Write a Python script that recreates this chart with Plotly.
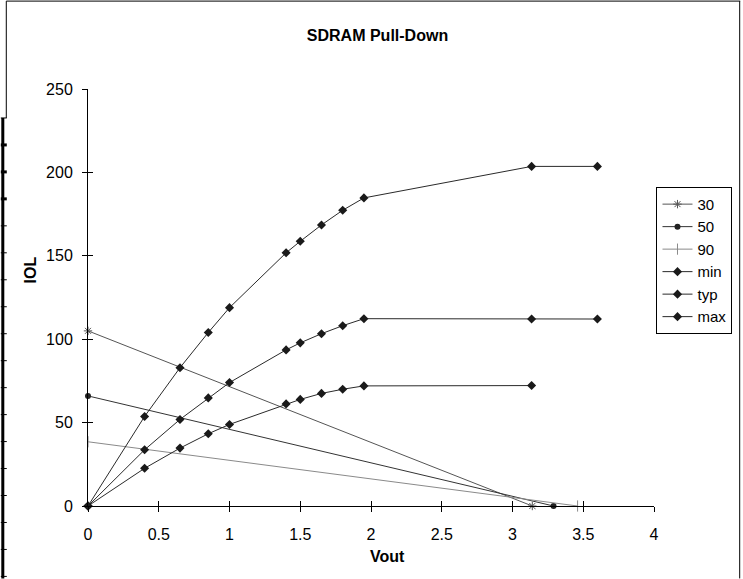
import plotly.graph_objects as go

# ---- data ----
x_drv = [0, 0.4, 0.65, 0.85, 1.0, 1.4, 1.5, 1.65, 1.8, 1.95, 3.135, 3.6]
y_min = [0, 22.6, 34.7, 43.3, 48.9, 61.2, 63.9, 67.5, 70.0, 72.0, 72.2]
y_typ = [0, 33.7, 51.9, 64.8, 74.0, 93.6, 97.8, 103.3, 108.1, 112.3, 112.1, 112.1]
y_max = [0, 53.7, 82.9, 104.0, 118.9, 151.8, 158.7, 168.5, 177.3, 184.7, 203.6, 203.6]

x_30 = [0, 3.14]
y_30 = [105, 0]
x_50 = [0, 3.29]
y_50 = [66, 0]
x_90 = [0, 3.46]
y_90 = [38.5, 0]

x_ticks = [0, 0.5, 1, 1.5, 2, 2.5, 3, 3.5, 4]
x_ticklabels = ["0", "0.5", "1", "1.5", "2", "2.5", "3", "3.5", "4"]
y_ticks = [0, 50, 100, 150, 200, 250]

# ---- geometry ----
W, H = 743, 579
L, R, T, B = 87.5, 87.5, 89, 72.5
PW = W - L - R
PH = H - T - B
FONT = "Liberation Sans, Arial, sans-serif"


def px(xp):
    return (xp - L) / PW


def py(yp):
    return (H - B - yp) / PH


fig = go.Figure()

fig.add_trace(go.Scatter(x=x_30, y=y_30, name="30", mode="lines+markers",
                         line=dict(color="#555555", width=1),
                         marker=dict(symbol="asterisk-open", size=7,
                                     line=dict(color="#555555", width=1)),
                         cliponaxis=False))
fig.add_trace(go.Scatter(x=x_50, y=y_50, name="50", mode="lines+markers",
                         line=dict(color="#333333", width=1),
                         marker=dict(symbol="circle", size=6, color="#222222"),
                         cliponaxis=False))
fig.add_trace(go.Scatter(x=x_90, y=y_90, name="90", mode="lines+markers",
                         line=dict(color="#8a8a8a", width=1),
                         marker=dict(symbol="line-ns-open", size=8,
                                     line=dict(color="#8a8a8a", width=1)),
                         cliponaxis=False))
for nm, ys in (("min", y_min), ("typ", y_typ), ("max", y_max)):
    fig.add_trace(go.Scatter(x=x_drv[:len(ys)], y=ys, name=nm, mode="lines+markers",
                             line=dict(color="#2a2a2a", width=1),
                             marker=dict(symbol="diamond", size=7, color="#1a1a1a"),
                             cliponaxis=False))

axis_common = dict(showgrid=False, zeroline=False, showline=True, linecolor="black",
                   linewidth=1, ticks="outside", ticklen=5, tickcolor="black",
                   tickwidth=1, tickfont=dict(family=FONT, size=16, color="black"))

shapes = [
    # chart frame
    dict(type="line", xref="paper", yref="paper", x0=px(5.5), x1=px(742), y0=py(1), y1=py(1),
         line=dict(color="black", width=1)),
    dict(type="line", xref="paper", yref="paper", x0=px(741.5), x1=px(741.5), y0=py(1), y1=py(579),
         line=dict(color="black", width=1)),
    dict(type="line", xref="paper", yref="paper", x0=px(5.5), x1=px(5.5), y0=py(1), y1=py(118),
         line=dict(color="black", width=1)),
    dict(type="line", xref="paper", yref="paper", x0=px(0), x1=px(6), y0=py(118), y1=py(118),
         line=dict(color="black", width=1)),
    dict(type="line", xref="paper", yref="paper", x0=px(2), x1=px(2), y0=py(118), y1=py(579),
         line=dict(color="black", width=3)),
]
for i, yy in enumerate(range(145, 579, 27)):
    shapes.append(dict(type="line", xref="paper", yref="paper", x0=px(0), x1=px(6),
                       y0=py(yy), y1=py(yy),
                       line=dict(color="black", width=3 if i < 3 else 1)))

fig.update_layout(
    width=W, height=H,
    margin=dict(l=L, r=R, t=T, b=B, pad=0),
    paper_bgcolor="white", plot_bgcolor="white",
    font=dict(family=FONT, size=16, color="black"),
    title=dict(text="<b>SDRAM Pull-Down</b>", x=377.5 / W, xanchor="center",
               y=1 - 35 / H, yanchor="middle",
               font=dict(family=FONT, size=16, color="black")),
    xaxis=dict(range=[0, 4], tickvals=x_ticks, ticktext=x_ticklabels,
               ticklabelstandoff=9, **axis_common),
    yaxis=dict(range=[0, 250], tickvals=y_ticks, ticklabelstandoff=6, **axis_common),
    xaxis2=dict(overlaying="x", anchor="y", side="bottom", range=[0, 4],
                tickvals=x_ticks, showticklabels=False, ticks="inside", ticklen=5,
                tickcolor="black", showline=False, showgrid=False, zeroline=False),
    yaxis2=dict(overlaying="y", anchor="x", side="left", range=[0, 250],
                tickvals=y_ticks, showticklabels=False, ticks="inside", ticklen=5,
                tickcolor="black", showline=False, showgrid=False, zeroline=False),
    legend=dict(x=px(657), y=py(187), xanchor="left", yanchor="top",
                bgcolor="white", bordercolor="black", borderwidth=1,
                font=dict(family=FONT, size=15, color="black"),
                itemwidth=30, tracegroupgap=0),
    annotations=[
        dict(text="<b>Vout</b>", xref="paper", yref="paper", x=px(388), y=py(557),
             xanchor="center", yanchor="middle", showarrow=False,
             font=dict(family=FONT, size=16, color="black")),
        dict(text="<b>IOL</b>", xref="paper", yref="paper", x=px(30), y=py(270),
             xanchor="center", yanchor="middle", showarrow=False, textangle=-90,
             font=dict(family=FONT, size=16, color="black")),
    ],
    shapes=shapes,
    showlegend=True,
)

# invisible helper trace so the overlay axes get drawn
fig.add_trace(go.Scatter(x=[None], y=[None], xaxis="x2", yaxis="y2",
                         showlegend=False, hoverinfo="skip"))

fig.write_html("out.html",
               config={"displayModeBar": False},
               post_script="document.body.style.margin='0px';document.body.style.padding='0px';")
